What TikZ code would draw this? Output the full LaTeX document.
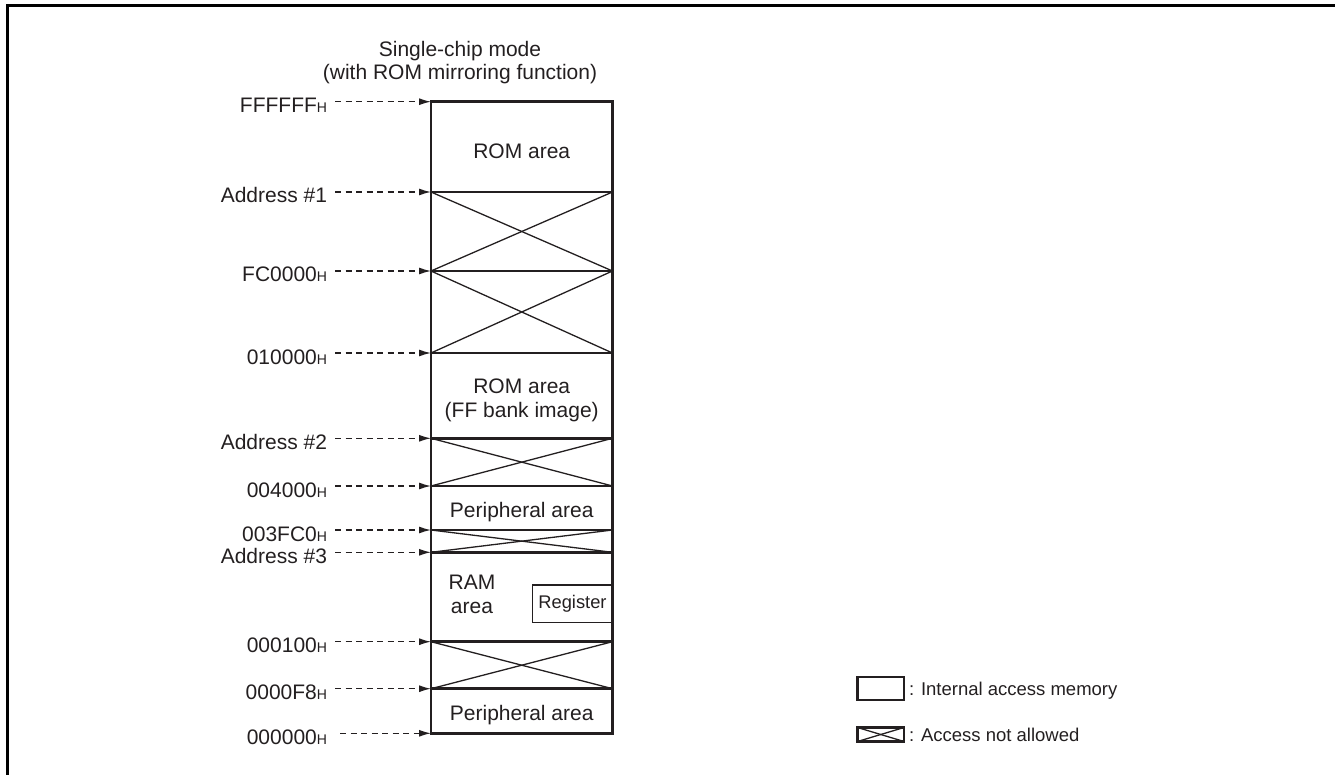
\documentclass[tikz,border=0pt]{standalone}
\usepackage{fontspec}
\setmainfont{Liberation Sans}
\usetikzlibrary{arrows.meta}
\definecolor{ink}{HTML}{231F20}
\begin{document}
\begin{tikzpicture}[x=1pt,y=-1pt,
  every node/.style={inner sep=0pt,outer sep=0pt,text=ink},
  big/.style={font=\fontsize{21}{24}\selectfont},
  small/.style={font=\fontsize{18.5}{22}\selectfont},
  lbl/.style={big,anchor=base east},
  ctr/.style={big,anchor=base},
  border/.style={draw=ink,line width=2.6pt},
  crossline/.style={draw=ink,line width=1.3pt},
  ptr/.style={draw=ink,line width=1.3pt,dash pattern=on 6pt off 4.5pt,
    -{Latex[length=12pt,width=7pt]}}]
\useasboundingbox (0,0) rectangle (1335,775);
% frame
\draw[black,line width=2.5pt] (7.5,775) -- (7.5,5.5) -- (1335,5.5);
% title
\node[ctr] (t1) at (460,57) {Single-chip mode};
\node[ctr] (t2) at (460,80) {(with ROM mirroring function)};
% memory column boundaries
\def\L{431}\def\R{612.5}
\foreach \n/\y in {0/101.7,1/192,2/271,3/353,4/438.3,5/486,6/530,7/552.3,8/641.7,9/688.7,10/733.3}{
  \coordinate (b\n) at (\L,\y);
  \coordinate (r\n) at (\R,\y);
}
% crosses (access not allowed)
\foreach \a/\b in {1/2,2/3,4/5,6/7,8/9}{
  \draw[crossline] (b\a) -- (r\b);
  \draw[crossline] (b\b) -- (r\a);
}
% horizontal boundaries
\foreach \n in {1,...,9}{
  \draw[border] (b\n) -- (r\n);
}
\draw[border] (b0) rectangle (r10);
% register box
\node[draw=ink,line width=1.1pt,minimum width=80pt,minimum height=37.3pt,anchor=north east,
  font=\fontsize{18.3}{20}\selectfont] (reg) at (612.5,585) {Register};
% area texts
\node[ctr] (rom1) at (521.7,158.3) {ROM area};
\node[ctr] (rom2a) at (521.7,393.3) {ROM area};
\node[ctr] (rom2b) at (521.7,417) {(FF bank image)};
\node[ctr] (per1) at (521.7,517.7) {Peripheral area};
\node[ctr] (ram1) at (472,589.3) {RAM};
\node[ctr] (ram2) at (472,613.5) {area};
\node[ctr] (per2) at (521.7,720) {Peripheral area};
% address labels and pointers
\newcommand{\hs}{{\fontsize{14}{14}\selectfont H}}
\foreach \n/\y/\t in {0/101.7/FFFFFF\hs,1/192/Address \#1,2/271/FC0000\hs,3/353/010000\hs,
  4/438.3/Address \#2,5/486/004000\hs,6/530/003FC0\hs,7/552.3/Address \#3,
  8/641.7/000100\hs,9/688.7/0000F8\hs}{
  \node[lbl] (l\n) at (327,\y+11) {\t};
  \coordinate (s\n) at (335,\y);
  \draw[ptr] (s\n) -- (b\n);
}
\node[lbl] (l10) at (327,744.3) {000000\hs};
\coordinate (s10) at (340,733.3);
\draw[ptr] (s10) -- (b10);
% legend
\draw[border] (857.5,677) rectangle (904,700);
\node[small,anchor=base west] (leg1) at (909,695) {: Internal access memory};
\draw[border] (857.5,727.5) rectangle (904,741.5);
\draw[crossline] (857.5,727.5) -- (904,741.5);
\draw[crossline] (857.5,741.5) -- (904,727.5);
\node[small,anchor=base west] (leg2) at (909,741.5) {: Access not allowed};
\end{tikzpicture}
\end{document}
